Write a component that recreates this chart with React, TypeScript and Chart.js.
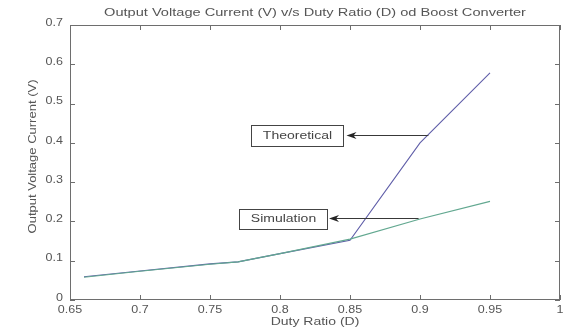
import { useEffect, useRef } from "react";
import { Chart, registerables } from "chart.js";

Chart.register(...registerables);

// ---- Data ----
const dutyRatio = [0.66, 0.7, 0.75, 0.77, 0.8, 0.85, 0.9, 0.95];
const theoretical = [0.059, 0.074, 0.092, 0.097, 0.118, 0.152, 0.4, 0.578];
const simulation = [0.058, 0.073, 0.091, 0.097, 0.118, 0.155, 0.206, 0.251];

const xTicks = [0.65, 0.7, 0.75, 0.8, 0.85, 0.9, 0.95, 1];
const xTickLabels = ["0.65", "0.7", "0.75", "0.8", "0.85", "0.9", "0.95", "1"];
const yTicks = [0, 0.1, 0.2, 0.3, 0.4, 0.5, 0.6, 0.7];
const yTickLabels = ["0", "0.1", "0.2", "0.3", "0.4", "0.5", "0.6", "0.7"];

const titleText = "Output Voltage Current (V) v/s Duty Ratio (D) od Boost Converter";
const xAxisTitle = "Duty Ratio (D)";
const yAxisTitle = "Output Voltage Current (V)";

const seriesNames = ["Theoretical", "Simulation"];

// annotation boxes/arrows in data coordinates
const annotationTexts = ["Theoretical", "Simulation"];
const annotationBoxes = [
  { x1: 0.7793, y1: 0.4455, x2: 0.845, y2: 0.392, ax1: 0.906, ax2: 0.8475, ay: 0.42 },
  { x1: 0.7707, y1: 0.2316, x2: 0.8336, y2: 0.1807, ax1: 0.899, ax2: 0.835, ay: 0.2087 },
];

const FONT = "10px 'Liberation Sans', Arial, Helvetica, sans-serif";
const TEXT_COLOR = "#555555";
const AXIS_COLOR = "#6e6e6e";

function stretchText(
  ctx: CanvasRenderingContext2D,
  text: string,
  x: number,
  y: number,
  sx: number,
  align: CanvasTextAlign,
  rotate = 0
) {
  ctx.save();
  ctx.translate(x, y);
  if (rotate) ctx.rotate(rotate);
  ctx.scale(sx, 1);
  ctx.textAlign = align;
  ctx.textBaseline = "middle";
  ctx.fillText(text, 0, 0);
  ctx.restore();
}

const matlabAxesPlugin = {
  id: "matlabAxes",
  afterDraw(chart: any) {
    const ctx: CanvasRenderingContext2D = chart.ctx;
    const { left, right, top, bottom } = chart.chartArea;
    const xs = chart.scales.x;
    const ys = chart.scales.y;
    ctx.save();

    // box
    ctx.strokeStyle = AXIS_COLOR;
    ctx.lineWidth = 1;
    ctx.strokeRect(left + 0.5, top + 0.5, right - left - 1, bottom - top - 1);

    // inward ticks on all four sides
    const tl = 5;
    ctx.beginPath();
    xTicks.forEach((v) => {
      const px = Math.round(xs.getPixelForValue(v)) + 0.5;
      ctx.moveTo(px, bottom);
      ctx.lineTo(px, bottom - tl);
      ctx.moveTo(px, top);
      ctx.lineTo(px, top + tl);
    });
    yTicks.forEach((v) => {
      const py = Math.round(ys.getPixelForValue(v)) + 0.5;
      ctx.moveTo(left, py);
      ctx.lineTo(left + tl, py);
      ctx.moveTo(right, py);
      ctx.lineTo(right - tl, py);
    });
    ctx.stroke();

    // tick labels
    ctx.fillStyle = TEXT_COLOR;
    ctx.font = FONT;
    xTicks.forEach((v, i) => {
      const px = xs.getPixelForValue(v);
      stretchText(ctx, xTickLabels[i], px, bottom + 10, 1.25, "center");
    });
    yTicks.forEach((v, i) => {
      const py = ys.getPixelForValue(v);
      stretchText(ctx, yTickLabels[i], left - 7, py - 2, 1.25, "right");
    });

    // title and axis titles
    stretchText(ctx, titleText, (left + right) / 2, 13, 1.46, "center");
    stretchText(ctx, xAxisTitle, (left + right) / 2, bottom + 22, 1.4, "center");
    stretchText(ctx, yAxisTitle, 33, (top + bottom) / 2 - 6, 1.3, "center", -Math.PI / 2);

    // annotations
    annotationBoxes.forEach((a, i) => {
      const bx1 = Math.round(xs.getPixelForValue(a.x1)) + 0.5;
      const bx2 = Math.round(xs.getPixelForValue(a.x2)) + 0.5;
      const by1 = Math.round(ys.getPixelForValue(a.y1)) + 0.5;
      const by2 = Math.round(ys.getPixelForValue(a.y2)) + 0.5;
      ctx.fillStyle = "#ffffff";
      ctx.fillRect(bx1, by1, bx2 - bx1, by2 - by1);
      ctx.strokeStyle = "#444444";
      ctx.lineWidth = 1;
      ctx.strokeRect(bx1, by1, bx2 - bx1, by2 - by1);
      ctx.fillStyle = "#444444";
      stretchText(ctx, annotationTexts[i], (bx1 + bx2) / 2, (by1 + by2) / 2, 1.4, "center");

      const t1 = xs.getPixelForValue(a.ax1);
      const t2 = xs.getPixelForValue(a.ax2);
      const ay = Math.round(ys.getPixelForValue(a.ay)) + 0.5;
      ctx.strokeStyle = "#383838";
      ctx.beginPath();
      ctx.moveTo(t1, ay);
      ctx.lineTo(t2 + 5, ay);
      ctx.stroke();
      ctx.fillStyle = "#252525";
      ctx.beginPath();
      ctx.moveTo(t2, ay);
      ctx.lineTo(t2 + 10, ay - 3.5);
      ctx.lineTo(t2 + 7, ay);
      ctx.lineTo(t2 + 10, ay + 3.5);
      ctx.closePath();
      ctx.fill();
    });

    ctx.restore();
  },
};

export default function App() {
  const canvasRef = useRef<HTMLCanvasElement | null>(null);

  useEffect(() => {
    document.body.style.margin = "0";
    const canvas = canvasRef.current;
    if (!canvas) return;
    const chart = new Chart(canvas, {
      type: "line",
      data: {
        datasets: [
          {
            label: seriesNames[1],
            data: dutyRatio.map((x, i) => ({ x, y: simulation[i] })),
            borderColor: "#62a890",
            borderWidth: 1.1,
            pointRadius: 0,
            tension: 0,
          },
          {
            label: seriesNames[0],
            data: dutyRatio.map((x, i) => ({ x, y: theoretical[i] })),
            borderColor: "#5f5da8",
            borderWidth: 1.1,
            pointRadius: 0,
            tension: 0,
          },
        ],
      },
      options: {
        responsive: false,
        animation: false,
        devicePixelRatio: 1,
        layout: { padding: { top: 25, right: 3, left: 0, bottom: 0 } },
        plugins: {
          legend: { display: false },
          title: { display: false },
          tooltip: { enabled: false },
        },
        events: [],
        scales: {
          x: {
            type: "linear",
            min: 0.65,
            max: 1,
            ticks: { display: false },
            grid: { display: false },
            border: { display: false },
            afterFit: (s: any) => {
              s.height = 32;
            },
          },
          y: {
            type: "linear",
            min: 0,
            max: 0.7,
            ticks: { display: false },
            grid: { display: false },
            border: { display: false },
            afterFit: (s: any) => {
              s.width = 70;
            },
          },
        },
      },
      plugins: [matlabAxesPlugin],
    } as any);
    return () => chart.destroy();
  }, []);

  return (
    <div style={{ width: 563, height: 332, background: "#fff" }}>
      <canvas ref={canvasRef} width={563} height={332} style={{ display: "block" }} />
    </div>
  );
}
